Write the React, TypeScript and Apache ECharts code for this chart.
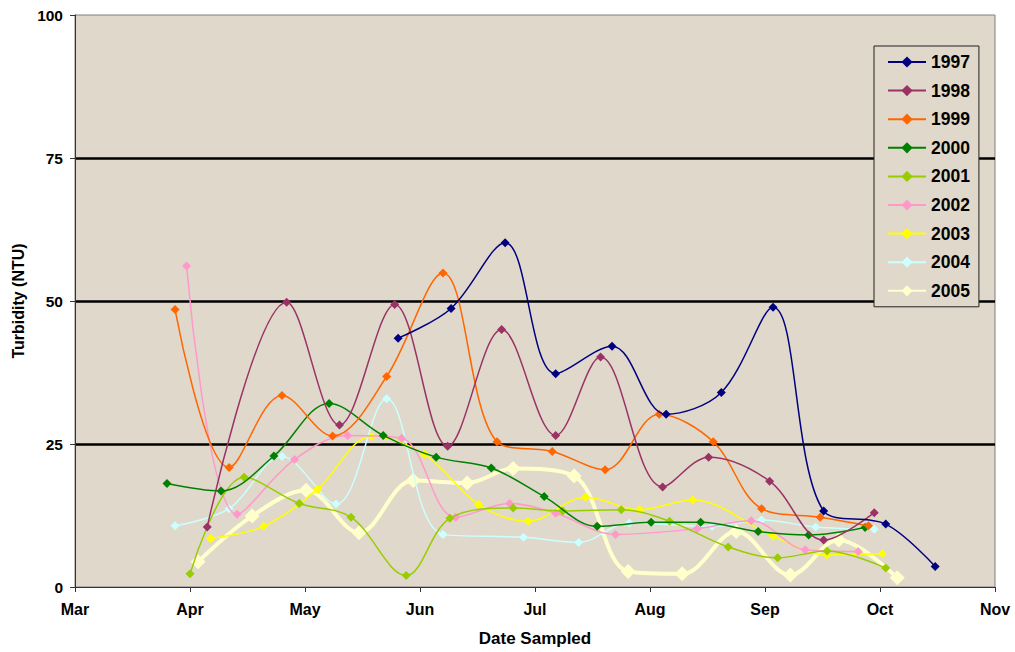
import React, { useEffect, useRef } from "react";
import * as echarts from "echarts";

// x values are month positions (3 = Mar 1, 4 = Apr 1, ... 11 = Nov 1)
const monthLabels = ["Mar", "Apr", "May", "Jun", "Jul", "Aug", "Sep", "Oct", "Nov"];
const years = ["1997", "1998", "1999", "2000", "2001", "2002", "2003", "2004", "2005"];

const d1997 = [
  [5.81, 43.5], [6.27, 48.7], [6.74, 60.2], [7.18, 37.3], [7.67, 42.1], [8.14, 30.2],
  [8.62, 34.0], [9.07, 48.9], [9.51, 13.3], [10.05, 11.0], [10.48, 3.6],
];
const d1998 = [
  [4.15, 10.5], [4.84, 49.8], [5.3, 28.3], [5.78, 49.4], [6.24, 24.6], [6.71, 45.0],
  [7.18, 26.5], [7.57, 40.2], [8.11, 17.5], [8.51, 22.7], [9.04, 18.5], [9.51, 8.2], [9.95, 13.0],
];
const d1999 = [
  [3.87, 48.5], [4.34, 20.9], [4.8, 33.5], [5.24, 26.4], [5.71, 36.8], [6.2, 54.9],
  [6.67, 25.4], [7.15, 23.7], [7.61, 20.5], [8.08, 30.2], [8.55, 25.4], [8.97, 13.7],
  [9.48, 12.2], [9.9, 10.7],
];
const d2000 = [
  [3.8, 18.1], [4.27, 16.8], [4.73, 22.9], [5.21, 32.1], [5.68, 26.5], [6.14, 22.7],
  [6.62, 20.8], [7.08, 15.8], [7.54, 10.6], [8.01, 11.3], [8.44, 11.3], [8.94, 9.7],
  [9.38, 9.1], [9.87, 10.4],
];
const d2001 = [
  [4.0, 2.3], [4.47, 19.2], [4.95, 14.6], [5.4, 12.2], [5.88, 2.0], [6.26, 12.0],
  [6.81, 13.8], [7.24, 13.3], [7.75, 13.5], [8.17, 11.5], [8.68, 7.0], [9.11, 5.1],
  [9.54, 6.3], [10.05, 3.3],
];
const d2002 = [
  [3.97, 56.1], [4.41, 12.7], [4.91, 22.3], [5.37, 26.5], [5.84, 26.0], [6.31, 12.2],
  [6.78, 14.6], [7.18, 12.9], [7.7, 9.2], [8.41, 10.2], [8.88, 11.6], [9.35, 6.5], [9.81, 6.2],
];
const d2003 = [
  [4.18, 8.5], [4.64, 10.6], [5.11, 17.1], [5.58, 26.3], [6.04, 23.2], [6.51, 14.4],
  [6.94, 11.5], [7.44, 15.7], [7.91, 13.5], [8.37, 15.2], [9.07, 8.9], [9.54, 5.6], [10.02, 5.8],
];
const d2004 = [
  [3.87, 10.7], [4.34, 13.7], [4.8, 22.8], [5.27, 14.5], [5.71, 32.9], [6.2, 9.2],
  [6.9, 8.7], [7.38, 7.8], [7.82, 11.2], [8.54, 10.6], [8.97, 11.7], [9.44, 10.5], [9.95, 10.1],
];
const d2005 = [
  [4.07, 4.4], [4.54, 12.4], [5.01, 16.9], [5.47, 9.5], [5.94, 18.6], [6.41, 18.2],
  [6.81, 20.7], [7.34, 19.4], [7.81, 2.7], [8.28, 2.3], [8.75, 9.7], [9.22, 2.1],
  [9.64, 8.2], [10.15, 1.6],
];

const seriesData = [d1997, d1998, d1999, d2000, d2001, d2002, d2003, d2004, d2005];
const colors = ["#000080", "#993366", "#FF6600", "#008000", "#99CC00", "#FF99CC", "#FFFF00", "#CCFFFF", "#FFFFCC"];

const FONT = "Arial, 'Liberation Sans', Helvetica, sans-serif";

export default function App() {
  const ref = useRef<HTMLDivElement>(null);
  useEffect(() => {
    if (!ref.current) return;
    const chart = echarts.init(ref.current, undefined, { renderer: "svg" });
    const series = years.map((name, i) => {
      const big = name === "2005";
      return {
        name,
        type: "line",
        data: seriesData[i],
        smooth: 0.35,
        smoothConstraint: false,
        symbol: "diamond",
        symbolSize: big ? 15 : 9,
        showAllSymbol: true,
        itemStyle: { color: colors[i] },
        lineStyle: { color: colors[i], width: big ? 4 : 1.5 },
        z: 10 - i,
      };
    });
    chart.setOption({
      animation: false,
      backgroundColor: "#ffffff",
      textStyle: { fontFamily: FONT },
      grid: {
        left: 75,
        right: 20,
        top: 15,
        bottom: 64,
        show: true,
        backgroundColor: "#E0D8CA",
        borderColor: "#808080",
        borderWidth: 1,
      },
      legend: {
        orient: "vertical",
        left: 874,
        top: 46,
        data: years,
        itemWidth: 38,
        itemHeight: 14,
        itemGap: 10.6,
        padding: [7, 9, 7, 13],
        borderColor: "#222",
        borderWidth: 1,
        backgroundColor: "#E0D8CA",
        textStyle: {
          fontFamily: FONT,
          fontWeight: "bold",
          fontSize: 17.5,
          lineHeight: 18,
          color: "#000",
        },
      },
      xAxis: {
        type: "value",
        min: 3,
        max: 11,
        interval: 1,
        name: "Date Sampled",
        nameLocation: "middle",
        nameGap: 43,
        nameTextStyle: { fontFamily: FONT, fontWeight: "bold", fontSize: 17, color: "#000" },
        axisLine: { show: true, lineStyle: { color: "#333", width: 1 } },
        axisTick: { show: true, length: 5, lineStyle: { color: "#333" } },
        axisLabel: {
          margin: 14,
          fontFamily: FONT,
          fontWeight: "bold",
          fontSize: 16,
          color: "#000",
          formatter: (v: number) => monthLabels[Math.round(v) - 3] ?? "",
        },
        splitLine: { show: false },
      },
      yAxis: {
        type: "value",
        min: 0,
        max: 100,
        interval: 25,
        name: "Turbidity (NTU)",
        nameLocation: "middle",
        nameGap: 48,
        nameTextStyle: { fontFamily: FONT, fontWeight: "bold", fontSize: 16, color: "#000" },
        axisLine: { show: true, lineStyle: { color: "#333", width: 1 } },
        axisTick: { show: true, length: 5, lineStyle: { color: "#333" } },
        axisLabel: { margin: 12, fontFamily: FONT, fontWeight: "bold", fontSize: 15.5, color: "#000" },
        splitLine: {
          show: true,
          showMinLine: false,
          showMaxLine: false,
          lineStyle: { color: "#000", width: 2.5 },
        },
      },
      series,
    });
    return () => chart.dispose();
  }, []);
  return (
    <div
      ref={ref}
      style={{ position: "absolute", left: 0, top: 0, width: 1015, height: 652 }}
    />
  );
}
